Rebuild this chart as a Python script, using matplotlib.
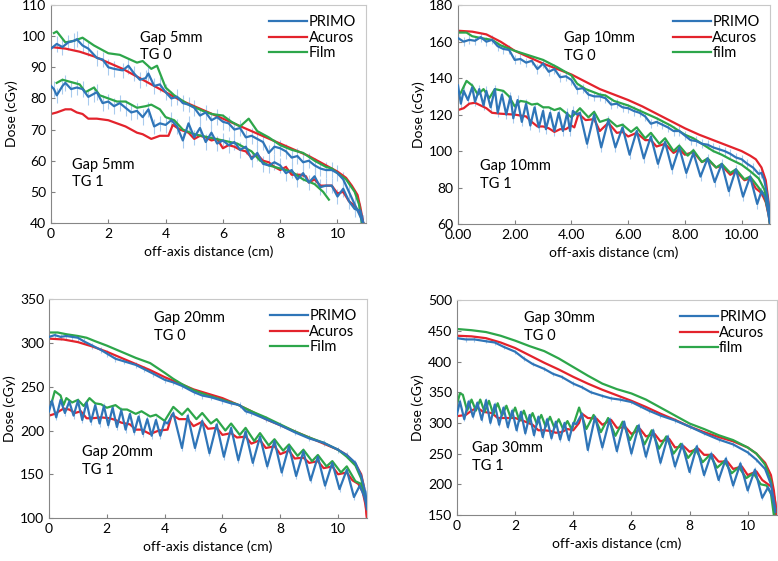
import matplotlib
matplotlib.use("Agg")
import matplotlib.pyplot as plt
from matplotlib.ticker import FormatStrFormatter

plt.rcParams['font.family'] = ['Lato', 'DejaVu Sans']
plt.rcParams['font.size'] = 10

BLUE = '#2F75B8'
RED = '#E3232C'
GREEN = '#2DA64A'
ERRC = '#A9CBEE'

# ---------------- Gap 5 mm ----------------
g5_tg0_primo_x = [0, 0.2, 0.4, 0.6, 0.8, 0.9, 1.1, 1.3, 1.6, 1.8, 2.0, 2.2, 2.5, 2.7, 2.9, 3.1, 3.3, 3.4, 3.6, 3.8,
                  4.0, 4.2, 4.4, 4.6, 4.8, 5.0, 5.2, 5.4, 5.6, 5.8, 6.0, 6.2, 6.4, 6.6, 6.8, 7.0, 7.2, 7.4, 7.6, 7.8,
                  8.0, 8.2, 8.4, 8.6, 8.8, 9.0, 9.2, 9.4, 9.6, 9.8, 10.0, 10.2, 10.4, 10.6, 10.8, 10.9]
g5_tg0_primo_y = [96, 97.5, 96.5, 98, 98.5, 99, 97, 96, 93, 92.5, 90, 89.5, 89, 90.5, 88, 86, 86.5, 88, 84, 84.5,
                  82, 80, 80.5, 78.5, 78, 77, 74.5, 75.5, 73, 74, 72.5, 72, 70, 70.5, 67.5, 68, 67, 66, 62.5, 64.5,
                  64, 63, 61, 61.5, 59.5, 60, 58.5, 57.5, 57, 57, 56, 54, 50, 46, 42, 40]
g5_tg0_acuros_x = [0, 0.5, 1.0, 1.5, 2.0, 2.5, 3.0, 3.5, 4.0, 4.5, 5.0, 5.5, 6.0, 6.5, 7.0, 7.5, 8.0, 8.5, 9.0,
                   9.5, 10.0, 10.3, 10.5, 10.7, 10.8, 10.9]
g5_tg0_acuros_y = [96.5, 96, 95, 93.5, 91.5, 89.5, 87, 84.5, 82, 79.5, 77.5, 75.5, 73.5, 71.5, 69.5, 67.5, 65.5,
                   63.5, 61.5, 59, 56.5, 54.5, 52, 49, 45, 40]
g5_tg0_film_x = [0.1, 0.2, 0.5, 0.8, 1.1, 1.5, 2.0, 2.4, 3.0, 3.2, 3.5, 3.7, 4.0, 4.3, 4.8, 5.3, 5.6, 6.0, 6.3,
                 6.6, 6.9, 7.2, 7.6, 8.0, 8.4, 8.8, 9.2, 9.6, 9.8, 10.0, 10.3, 10.6, 10.75, 10.85]
g5_tg0_film_y = [101, 101.5, 98, 98.5, 99.5, 97, 94.5, 94, 91.5, 92, 89.5, 90.5, 83.5, 81, 78, 76, 75, 74.5, 72.5,
                 71, 73.5, 69.5, 67.5, 65, 63.5, 62.5, 60, 58, 57.5, 56, 54, 50, 46, 40]
g5_tg1_primo_x = [0, 0.1, 0.2, 0.4, 0.5, 0.7, 0.9, 1.1, 1.3, 1.5, 1.6, 1.8, 2.0, 2.2, 2.4, 2.6, 2.8, 3.0, 3.2, 3.4,
                  3.6, 3.8, 4.0, 4.2, 4.4, 4.6, 4.8, 5.0, 5.2, 5.4, 5.6, 5.8, 6.0, 6.2, 6.4, 6.6, 6.8, 7.0, 7.2, 7.4,
                  7.6, 7.8, 8.0, 8.2, 8.4, 8.6, 8.8, 9.0, 9.2, 9.4, 9.6, 9.8, 10.0, 10.2, 10.4, 10.6, 10.8, 10.9]
g5_tg1_primo_y = [84, 83, 81, 84, 85, 83, 83.5, 83, 80.5, 81.5, 82, 78.5, 79, 77.5, 78.5, 77, 75.5, 76, 74, 76.5,
                  71, 72, 71.5, 73, 71, 66.5, 72, 67.5, 70.5, 66, 69, 65.5, 66.5, 65, 66, 63.5, 64.5, 60.5, 62.5, 59,
                  58.5, 59.5, 58.5, 56, 57, 54, 56, 53, 55, 51.5, 52, 52, 48.5, 51, 47, 44.5, 44, 40]
g5_tg1_acuros_x = [0, 0.2, 0.5, 0.7, 0.9, 1.1, 1.3, 1.6, 2.0, 2.3, 2.6, 3.0, 3.2, 3.5, 3.8, 4.1, 4.25, 4.5, 4.8,
                   5.0, 5.2, 5.4, 5.6, 5.8, 6.0, 6.2, 6.4, 6.6, 6.8, 7.0, 7.2, 7.4, 7.6, 7.8, 8.0, 8.2, 8.4, 8.7,
                   8.9, 9.0, 9.2, 9.4, 9.6, 9.8, 10.0, 10.2, 10.4, 10.6, 10.8, 10.9]
g5_tg1_acuros_y = [75, 75.5, 76.5, 76.5, 75.5, 75, 73.5, 73.5, 73, 72, 71, 69, 68.5, 67, 68, 68, 71.5, 70, 69,
                   67, 68, 67.5, 66.5, 67, 64, 65, 64.5, 63.5, 63, 61, 62, 60, 59.5, 58, 57, 58, 55.5, 55.5,
                   55, 53, 54, 52, 52, 52, 49.5, 50, 47, 45.5, 43, 40]
g5_tg1_film_x = [0.2, 0.4, 0.6, 0.8, 1.0, 1.2, 1.5, 1.7, 2.0, 2.3, 2.6, 3.0, 3.3, 3.5, 3.8, 4.0, 4.3, 4.6, 5.0,
                 5.5, 6.0, 6.5, 7.0, 7.3, 7.6, 8.0, 8.4, 8.8, 9.2, 9.5, 9.7]
g5_tg1_film_y = [85, 86, 85.5, 85, 84.5, 82, 83.5, 81, 80, 79, 79, 77, 77.5, 78, 76.5, 74, 73, 70, 68.5,
                 67.5, 66.5, 65.5, 63, 60, 58.5, 57.5, 56.5, 54, 52.5, 50, 47.5]

# ---------------- Gap 10 mm ----------------
g10_tg0_primo_x = [0, 0.2, 0.4, 0.6, 0.8, 1.0, 1.2, 1.4, 1.6, 1.8, 2.0, 2.2, 2.4, 2.6, 2.8, 3.0, 3.2, 3.4, 3.6, 3.8,
                   4.0, 4.2, 4.4, 4.6, 4.8, 5.0, 5.2, 5.4, 5.6, 5.8, 6.0, 6.2, 6.4, 6.6, 6.8, 7.0, 7.2, 7.4, 7.6, 7.8,
                   8.0, 8.2, 8.4, 8.6, 8.8, 9.0, 9.2, 9.4, 9.6, 9.8, 10.0, 10.2, 10.4, 10.6, 10.7, 10.8, 10.9, 11.0]
g10_tg0_primo_y = [162, 160, 161, 160.5, 162.5, 160, 161, 157.5, 156, 155.5, 150, 150.5, 148.5, 149.5, 145, 148,
                   143.5, 145, 140.5, 141, 139, 134, 134.5, 131, 130, 130, 129, 125.5, 126, 124, 123.5, 122, 121,
                   119, 115, 116, 114.5, 113, 111, 111, 108.5, 106, 105.5, 104, 103.5, 102, 101, 100, 98.5, 96.5,
                   95.5, 93, 91, 87.5, 88, 84, 76, 65]
g10_tg0_acuros_x = [0, 0.5, 1.0, 1.5, 2.0, 2.5, 3.0, 3.5, 4.0, 4.5, 5.0, 5.5, 6.0, 6.5, 7.0, 7.5, 8.0, 8.5, 9.0,
                    9.5, 10.0, 10.3, 10.5, 10.7, 10.85, 10.95, 11.0]
g10_tg0_acuros_y = [166, 165.5, 164, 160, 155, 151.5, 148, 145, 142, 138, 134, 131, 128, 124.5, 120.5, 116.5,
                    112.5, 109, 106, 103, 100, 97.5, 95.5, 91, 84, 72, 60]
g10_tg0_film_x = [0, 0.3, 0.5, 0.8, 1.2, 1.5, 2.0, 2.5, 3.0, 3.5, 4.0, 4.2, 4.5, 5.0, 5.2, 5.5, 6.0, 6.5, 7.0,
                  7.5, 8.0, 8.3, 8.6, 9.0, 9.3, 9.6, 10.0, 10.3, 10.6, 10.8, 10.95, 11.0]
g10_tg0_film_y = [165, 165, 163, 162, 161, 158, 155, 152.5, 150, 146, 141.5, 137, 134, 131, 130.5, 127.5, 125,
                  121.5, 118, 114, 109, 107, 104, 100, 98, 95.5, 92.5, 89, 85, 79, 70, 60]
g10_tg1_primo_x = [0, 0.1, 0.2, 0.35, 0.5, 0.6, 0.75, 0.9, 1.0, 1.15, 1.3, 1.4, 1.55, 1.7, 1.85, 1.95, 2.1, 2.25,
                   2.4, 2.55, 2.7, 2.85, 3.0, 3.1, 3.25, 3.4, 3.55, 3.7, 3.85, 3.95, 4.05, 4.2, 4.3, 4.55, 4.8,
                   5.05, 5.3, 5.55, 5.8, 6.05, 6.3, 6.55, 6.8, 7.05, 7.3, 7.55, 7.8, 8.05, 8.3, 8.55, 8.8, 9.05,
                   9.3, 9.55, 9.8, 10.05, 10.3, 10.55, 10.7, 10.85, 10.95, 11.0]
g10_tg1_primo_y = [136, 126, 133, 128, 135, 127, 134, 125, 133, 124, 134, 121, 131, 120, 130, 118, 128, 116,
                   126, 114, 124, 113, 122, 112, 121, 111, 121, 111, 121, 111, 122, 120, 121, 104, 120,
                   102, 117, 102, 113, 98, 111, 96, 108, 93, 105, 90, 102, 88, 99, 86, 96, 83,
                   93, 78, 90, 75, 86, 71, 78, 74, 65, 60]
g10_tg1_acuros_x = [0, 0.2, 0.4, 0.6, 0.8, 1.0, 1.2, 1.5, 2.0, 2.4, 2.6, 2.8, 3.0, 3.2, 3.4, 3.6, 3.8, 4.0, 4.1,
                    4.25, 4.5, 4.8, 5.0, 5.3, 5.6, 5.8, 6.0, 6.3, 6.6, 6.8, 7.0, 7.3, 7.6, 7.8, 8.0, 8.3, 8.6,
                    8.8, 9.1, 9.3, 9.6, 9.8, 10.1, 10.3, 10.5, 10.7, 10.85, 10.95, 11.0]
g10_tg1_acuros_y = [122.5, 123.5, 126, 126.5, 125, 123.5, 121, 120.5, 120, 119, 116, 113.5, 113.5, 112.5, 110.5,
                    112, 112, 114, 113, 120.5, 117, 117.5, 111, 115.5, 110, 110.5, 108, 110, 106, 106, 102.5,
                    104, 99, 101, 98, 99.5, 94, 95.5, 91, 92, 87, 89, 84, 85, 79.5, 77, 72, 65, 60]
g10_tg1_film_x = [0, 0.1, 0.3, 0.5, 0.7, 0.9, 1.1, 1.3, 1.6, 1.8, 2.0, 2.2, 2.4, 2.6, 2.8, 3.0, 3.2, 3.4, 3.6,
                  3.8, 4.0, 4.3, 4.6, 4.8, 5.0, 5.3, 5.6, 5.8, 6.1, 6.3, 6.6, 6.8, 7.1, 7.3, 7.6, 7.8, 8.1,
                  8.3, 8.6, 8.8, 9.1, 9.3, 9.6, 9.8, 10.1, 10.3, 10.6, 10.8, 10.95, 11.0]
g10_tg1_film_y = [130, 132, 138.5, 136, 131, 134, 129, 134, 133, 130, 124.5, 127.5, 127, 125.5, 126, 124, 124,
                  122.5, 123.5, 121, 118.5, 123.5, 118.5, 121.5, 116, 117.5, 113.5, 114.5, 110.5, 113, 107, 110,
                  104, 107, 100, 103, 97.5, 100.5, 94, 96, 91, 93, 88, 90, 84.5, 86, 80, 76, 66, 60]

# ---------------- Gap 20 mm ----------------
g20_tg0_primo_x = [0, 0.2, 0.4, 0.6, 0.8, 1.0, 1.2, 1.5, 1.8, 2.0, 2.3, 2.6, 3.0, 3.3, 3.6, 4.0, 4.3, 4.6, 5.0,
                   5.3, 5.6, 6.0, 6.3, 6.6, 6.8, 7.0, 7.5, 8.0, 8.5, 9.0, 9.5, 10.0, 10.3, 10.6, 10.8, 10.95, 11.0]
g20_tg0_primo_y = [307, 309, 307, 308, 307, 306, 302, 297, 292, 288, 282, 279, 275, 270, 265, 258, 255, 251, 244,
                   240, 238, 234, 231, 229, 222, 220, 213, 206, 198, 191, 186, 178, 172, 163, 148, 128, 110]
g20_tg0_acuros_x = [0, 0.5, 1.0, 1.5, 2.0, 2.5, 3.0, 3.5, 4.0, 4.5, 5.0, 5.5, 6.0, 6.5, 7.0, 7.5, 8.0, 8.5, 9.0,
                    9.5, 10.0, 10.3, 10.6, 10.8, 10.9, 11.0]
g20_tg0_acuros_y = [305, 304, 301, 296, 290, 283, 276, 269, 261, 254, 247, 242, 237, 230, 222, 213, 206, 199, 192,
                    185, 178, 172, 162, 150, 135, 100]
g20_tg0_film_x = [0, 0.3, 0.6, 1.0, 1.3, 1.6, 2.0, 2.5, 3.0, 3.5, 4.0, 4.3, 4.6, 5.0, 5.5, 6.0, 6.5, 7.0, 7.5,
                  8.0, 8.5, 9.0, 9.5, 10.0, 10.3, 10.6, 10.8, 10.9]
g20_tg0_film_y = [312, 312, 310, 308, 306, 302, 297, 290, 283, 277, 266, 259, 253, 246, 240, 235, 230, 222, 215,
                  207, 199, 192, 186, 178, 170, 160, 145, 130]
g20_tg1_primo_x = [0, 0.1, 0.25, 0.4, 0.55, 0.7, 0.85, 1.0, 1.15, 1.3, 1.45, 1.6, 1.75, 1.9, 2.05, 2.2, 2.35, 2.5,
                   2.65, 2.8, 2.95, 3.1, 3.25, 3.4, 3.55, 3.7, 3.85, 4.0, 4.1, 4.3, 4.6, 4.8, 5.05, 5.3, 5.55,
                   5.8, 6.05, 6.3, 6.55, 6.8, 7.05, 7.3, 7.55, 7.8, 8.05, 8.3, 8.55, 8.8, 9.05, 9.3, 9.55, 9.8,
                   10.05, 10.3, 10.55, 10.75, 10.9, 11.0]
g20_tg1_primo_y = [222, 234, 215, 235, 220, 233, 217, 234, 212, 232, 210, 229, 208, 228, 206, 226, 204, 223,
                   201, 219, 198, 216, 196, 213, 194, 212, 194, 210, 208, 220, 180, 217, 180, 211, 174,
                   207, 170, 203, 166, 199, 163, 193, 159, 188, 152, 182, 148, 176, 143, 170, 137, 163,
                   133, 155, 124, 137, 125, 112]
g20_tg1_acuros_x = [0, 0.2, 0.5, 0.7, 0.9, 1.1, 1.3, 1.5, 1.8, 2.1, 2.3, 2.5, 2.8, 3.0, 3.2, 3.5, 3.8, 4.1, 4.25,
                    4.5, 4.8, 5.0, 5.3, 5.5, 5.8, 6.0, 6.3, 6.5, 6.8, 7.0, 7.3, 7.5, 7.8, 8.0, 8.3, 8.5, 8.8,
                    9.0, 9.3, 9.5, 9.8, 10.0, 10.3, 10.5, 10.7, 10.85, 10.95, 11.0]
g20_tg1_acuros_y = [217, 219, 225, 224, 220, 222, 214, 214, 215, 214, 212, 209, 207, 201, 201, 196, 200, 201, 218,
                    213, 213, 205, 210, 202, 203, 195, 197, 192, 193, 185, 189, 180, 182, 173, 177, 168, 169,
                    163, 165, 157, 159, 150, 152, 143, 139, 130, 115, 100]
g20_tg1_film_x = [0, 0.1, 0.2, 0.4, 0.5, 0.6, 0.8, 1.0, 1.2, 1.4, 1.6, 1.8, 2.0, 2.3, 2.5, 2.7, 3.0, 3.2, 3.5,
                  3.7, 4.0, 4.3, 4.6, 4.8, 5.1, 5.3, 5.6, 5.8, 6.1, 6.3, 6.6, 6.8, 7.1, 7.3, 7.6, 7.8, 8.1,
                  8.3, 8.6, 8.8, 9.1, 9.3, 9.6, 9.8, 10.1, 10.3, 10.6, 10.8, 10.95]
g20_tg1_film_y = [232, 233, 245, 240, 229, 237, 232, 235, 228, 237, 231, 230, 226, 229, 224, 224, 219, 222, 216,
                  218, 211, 227, 218, 225, 213, 220, 208, 213, 200, 208, 195, 203, 188, 197, 183, 190, 177,
                  184, 171, 178, 165, 172, 159, 165, 152, 159, 142, 139, 125]

# ---------------- Gap 30 mm ----------------
g30_tg0_primo_x = [0, 0.3, 0.6, 1.0, 1.3, 1.6, 2.0, 2.3, 2.6, 3.0, 3.3, 3.6, 4.0, 4.3, 4.6, 5.0, 5.3, 5.6, 6.0,
                   6.3, 6.6, 7.0, 7.5, 8.0, 8.5, 9.0, 9.5, 10.0, 10.3, 10.6, 10.8, 10.95]
g30_tg0_primo_y = [438, 436, 436, 433, 431, 424, 416, 405, 396, 388, 380, 375, 364, 358, 350, 344, 340, 338, 334,
                   327, 320, 312, 304, 294, 283, 273, 265, 252, 240, 225, 200, 160]
g30_tg0_acuros_x = [0, 0.5, 1.0, 1.5, 2.0, 2.5, 3.0, 3.5, 4.0, 4.5, 5.0, 5.5, 6.0, 6.5, 7.0, 7.5, 8.0, 8.5, 9.0,
                    9.5, 10.0, 10.3, 10.6, 10.8, 10.9, 11.0]
g30_tg0_acuros_y = [442, 441, 438, 431, 422, 410, 398, 387, 375, 364, 354, 345, 336, 326, 315, 305, 294, 285, 277,
                    270, 260, 250, 235, 215, 190, 150]
g30_tg0_film_x = [0, 0.5, 1.0, 1.5, 2.0, 2.5, 3.0, 3.5, 4.0, 4.5, 5.0, 5.5, 6.0, 6.5, 7.0, 7.5, 8.0, 8.5, 9.0,
                  9.5, 10.0, 10.3, 10.6, 10.8, 10.9, 10.95]
g30_tg0_film_y = [453, 451, 448, 442, 434, 425, 417, 405, 391, 377, 364, 355, 348, 338, 325, 312, 299, 290, 280,
                  272, 260, 250, 232, 205, 175, 150]
g30_tg1_primo_x = [0, 0.1, 0.25, 0.4, 0.55, 0.7, 0.85, 1.0, 1.15, 1.3, 1.45, 1.6, 1.75, 1.9, 2.05, 2.2, 2.35,
                   2.5, 2.65, 2.8, 2.95, 3.1, 3.25, 3.4, 3.55, 3.7, 3.85, 4.0, 4.1, 4.3, 4.5, 4.75, 5.0, 5.25,
                   5.5, 5.75, 6.0, 6.25, 6.5, 6.75, 7.0, 7.25, 7.5, 7.75, 8.0, 8.25, 8.5, 8.75, 9.0, 9.25, 9.5,
                   9.75, 10.0, 10.25, 10.5, 10.7, 10.85, 10.95]
g30_tg1_primo_y = [314, 335, 306, 335, 310, 333, 305, 337, 300, 330, 297, 325, 293, 320, 288, 318, 283,
                   313, 280, 310, 277, 306, 275, 302, 273, 300, 272, 300, 298, 315, 256, 310, 260, 306,
                   254, 302, 250, 296, 245, 288, 235, 278, 229, 265, 220, 262, 215, 250, 207, 242, 198,
                   234, 190, 224, 178, 195, 180, 155]
g30_tg1_acuros_x = [0, 0.3, 0.5, 0.7, 0.9, 1.2, 1.4, 1.7, 2.0, 2.3, 2.6, 2.8, 3.0, 3.2, 3.4, 3.6, 3.8, 4.0, 4.2,
                    4.3, 4.5, 4.8, 5.0, 5.3, 5.5, 5.8, 6.0, 6.3, 6.5, 6.8, 7.0, 7.3, 7.5, 7.8, 8.0, 8.3, 8.5,
                    8.8, 9.0, 9.3, 9.5, 9.8, 10.0, 10.3, 10.5, 10.7, 10.85, 10.95, 11.0]
g30_tg1_acuros_y = [311, 313, 320, 325, 318, 316, 308, 308, 308, 303, 297, 288, 288, 287, 284, 285, 290, 288, 300,
                    315, 308, 307, 297, 305, 292, 293, 282, 290, 278, 282, 270, 274, 260, 262, 253, 258, 248,
                    248, 237, 237, 225, 229, 215, 221, 207, 200, 195, 170, 150]
g30_tg1_film_x = [0, 0.1, 0.2, 0.35, 0.5, 0.65, 0.8, 0.95, 1.1, 1.25, 1.4, 1.55, 1.7, 1.85, 2.0, 2.15, 2.3, 2.45,
                  2.6, 2.75, 2.9, 3.05, 3.2, 3.35, 3.5, 3.65, 3.8, 3.95, 4.2, 4.45, 4.7, 4.95, 5.2, 5.45, 5.7,
                  5.95, 6.2, 6.45, 6.7, 6.95, 7.2, 7.45, 7.7, 7.95, 8.2, 8.45, 8.7, 8.95, 9.2, 9.45, 9.7, 9.95,
                  10.2, 10.45, 10.65, 10.8, 10.9]
g30_tg1_film_y = [330, 348, 346, 320, 338, 320, 338, 318, 336, 314, 332, 312, 328, 308, 325, 303, 320, 300,
                  316, 298, 313, 294, 310, 292, 306, 290, 303, 289, 325, 290, 313, 285, 308, 279, 302,
                  272, 295, 265, 288, 258, 278, 250, 266, 243, 258, 236, 248, 227, 238, 218, 228, 210,
                  218, 200, 198, 185, 150]

# panel settings: gap label, film label, y range, y step, primo error, text positions
panels = [
    dict(gap='5mm', film='Film', ylim=(40, 110), ystep=10, err=2.5, xfmt='%d',
         tg0=(3.1, 101.8), tg1=(0.73, 61),
         data=[(g5_tg0_primo_x, g5_tg0_primo_y, g5_tg0_acuros_x, g5_tg0_acuros_y, g5_tg0_film_x, g5_tg0_film_y),
               (g5_tg1_primo_x, g5_tg1_primo_y, g5_tg1_acuros_x, g5_tg1_acuros_y, g5_tg1_film_x, g5_tg1_film_y)]),
    dict(gap='10mm', film='film', ylim=(60, 180), ystep=20, err=2.5, xfmt='%.2f',
         tg0=(3.72, 166), tg1=(0.79, 95.5),
         data=[(g10_tg0_primo_x, g10_tg0_primo_y, g10_tg0_acuros_x, g10_tg0_acuros_y, g10_tg0_film_x, g10_tg0_film_y),
               (g10_tg1_primo_x, g10_tg1_primo_y, g10_tg1_acuros_x, g10_tg1_acuros_y, g10_tg1_film_x, g10_tg1_film_y)]),
    dict(gap='20mm', film='Film', ylim=(100, 350), ystep=50, err=3.5, xfmt='%d',
         tg0=(3.62, 336.5), tg1=(1.14, 183),
         data=[(g20_tg0_primo_x, g20_tg0_primo_y, g20_tg0_acuros_x, g20_tg0_acuros_y, g20_tg0_film_x, g20_tg0_film_y),
               (g20_tg1_primo_x, g20_tg1_primo_y, g20_tg1_acuros_x, g20_tg1_acuros_y, g20_tg1_film_x, g20_tg1_film_y)]),
    dict(gap='30mm', film='film', ylim=(150, 500), ystep=50, err=3.5, xfmt='%d',
         tg0=(2.3, 482), tg1=(0.5, 271),
         data=[(g30_tg0_primo_x, g30_tg0_primo_y, g30_tg0_acuros_x, g30_tg0_acuros_y, g30_tg0_film_x, g30_tg0_film_y),
               (g30_tg1_primo_x, g30_tg1_primo_y, g30_tg1_acuros_x, g30_tg1_acuros_y, g30_tg1_film_x, g30_tg1_film_y)]),
]

# axes rectangles in figure fractions (left, bottom, width, height)
rects = [(0.0656, 0.6025, 0.405, 0.3886),
         (0.5887, 0.6007, 0.401, 0.390),
         (0.063, 0.0766, 0.4087, 0.390),
         (0.5874, 0.082, 0.411, 0.383)]

fig = plt.figure(figsize=(7.78, 5.61), dpi=100)

for p, r in zip(panels, rects):
    ax = fig.add_axes(r)
    for i, (px, py, ax_, ay, fx, fy) in enumerate(p['data']):
        ax.errorbar(px, py, yerr=p['err'], fmt='none', ecolor=ERRC, elinewidth=0.8, zorder=1)
        ax.plot(px, py, color=BLUE, lw=1.6, zorder=3, label='PRIMO' if i == 0 else None)
        ax.plot(ax_, ay, color=RED, lw=1.6, zorder=2, label='Acuros' if i == 0 else None)
        ax.plot(fx, fy, color=GREEN, lw=1.6, zorder=2, label=p['film'] if i == 0 else None)

    ax.set_xlim(0, 11)
    ax.set_ylim(*p['ylim'])
    ax.set_xticks([0, 2, 4, 6, 8, 10])
    ax.set_yticks(range(p['ylim'][0], p['ylim'][1] + 1, p['ystep']))
    ax.xaxis.set_major_formatter(FormatStrFormatter(p['xfmt']))
    ax.tick_params(direction='in', length=3, width=0.8, color='#808080', labelsize=10)
    for s in ['left', 'bottom']:
        ax.spines[s].set_color('#868686')
    for s in ['top', 'right']:
        ax.spines[s].set_color('#C8C8C8')
    ax.set_xlabel('off-axis distance (cm)', fontsize=10, labelpad=4)
    ax.set_ylabel('Dose (cGy)', fontsize=10, labelpad=3)

    ax.text(p['tg0'][0], p['tg0'][1], 'Gap %s\nTG 0' % p['gap'], fontsize=10.5, va='top', linespacing=1.35)
    ax.text(p['tg1'][0], p['tg1'][1], 'Gap %s\nTG 1' % p['gap'], fontsize=10.5, va='top', linespacing=1.35)

    ax.legend(loc='upper right', frameon=False, fontsize=10.5, handlelength=2.6, handletextpad=0.1,
              labelspacing=0.1, borderaxespad=0.3)

fig.savefig('out.png', dpi=100)
